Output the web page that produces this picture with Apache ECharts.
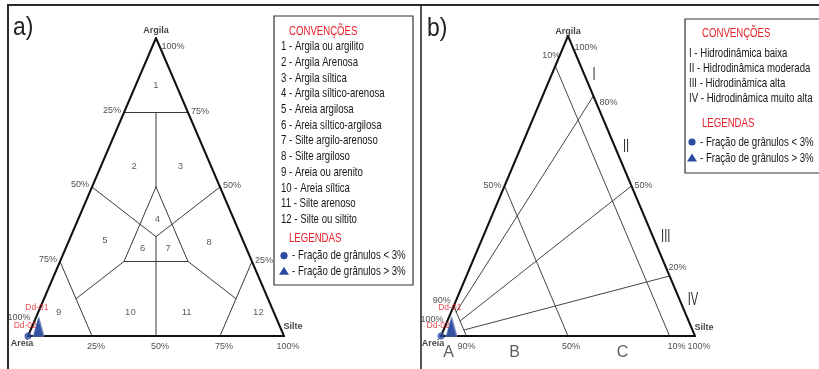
<!DOCTYPE html>
<html>
<head>
<meta charset="utf-8">
<script src="https://cdn.jsdelivr.net/npm/echarts@6/dist/echarts.min.js"></script>
<style>
  html, body { margin: 0; padding: 0; background: #fff; }
  #chart { width: 819px; height: 369px; }
</style>
</head>
<body>
<div id="chart"></div>
<script>
// ---- Data -------------------------------------------------------------
// Shepard classes (panel a)
const shepardClasses = [
  '1 - Argila ou argilito', '2 - Argila Arenosa', '3 - Argila síltica',
  '4 - Argila síltico-arenosa', '5 - Areia argilosa', '6 - Areia síltico-argilosa',
  '7 - Silte argilo-arenoso', '8 - Silte argiloso', '9 - Areia ou arenito',
  '10 - Areia síltica', '11 - Silte arenoso', '12 - Silte ou siltito'
];
// Pejrup hydrodynamic classes (panel b)
const pejrupClasses = [
  'I - Hidrodinâmica baixa', 'II - Hidrodinâmica moderada',
  'III - Hidrodinâmica alta', 'IV - Hidrodinâmica muito alta'
];
const pejrupNumerals = ['I', 'II', 'III', 'IV'];
const pejrupSections = ['A', 'B', 'C'];
const granuleLegend = ['- Fração de grânulos < 3%', '- Fração de grânulos > 3%'];

// axis ticks (%)
const shepardTicks = [25, 50, 75, 100];
const pejrupSandTicks = [10, 50, 90];        // sand percentage lines
const pejrupRatioTicks = [80, 50, 20];       // clay / (clay + silt) lines

// samples: composition in % (clay, sand, silt)
const samples = ['Dd-01', 'Dd-02'];
const sampleClay = [3.5, 3.0];
const sampleSand = [94.0, 94.5];
const sampleSilt = [2.5, 2.5];
// samples with granule fraction < 3 %
const pureSandClay = [0];
const pureSandSand = [100];
const pureSandSilt = [0];

// ---- Styling ----------------------------------------------------------
const SANS = '"Liberation Sans",Arial,sans-serif';
const NARROW_SCALE = 0.74;   // condensed look for the legend texts
const INK = '#161616';
const RED = '#e8202a';
const BLUE = '#2b4c9f';

// ternary (clay, sand, silt) -> cartesian value space [0..1]
function tern(c, s, t) { return [(t + c / 2) / 100, c / 100]; }

// ---- Shepard boundaries -----------------------------------------------
const third = 100 / 3;
const shepardSegs = [
  [[75, 25, 0], [75, 0, 25]],
  [[75, 12.5, 12.5], [50, 25, 25]],
  [[50, 25, 25], [25, 50, 25], [25, 25, 50], [50, 25, 25]],
  [[50, 50, 0], [third, third, third], [50, 0, 50]],
  [[third, third, third], [0, 50, 50]],
  [[25, 75, 0], [0, 75, 25]],
  [[25, 0, 75], [0, 25, 75]],
  [[25, 50, 25], [12.5, 75, 12.5]],
  [[25, 25, 50], [12.5, 12.5, 75]]
];
// where each class number sits (clay, sand, silt)
const classLabelAt = [
  [84, 8, 8], [57, 30, 13], [57, 12, 31], [39, 30, 31], [32, 54, 14], [29.5, 40.5, 30],
  [29.5, 30.5, 40], [31.5, 13.5, 55], [8, 84, 8], [8, 56, 36], [8, 34, 58], [8, 6, 86]
];

// ---- Pejrup boundaries ------------------------------------------------
const pejrupSegs = [];
pejrupSandTicks.forEach(s => pejrupSegs.push([[100 - s, s, 0], [0, s, 100 - s]]));
pejrupRatioTicks.forEach(r => pejrupSegs.push([[10 * r / 100, 90, 10 * (100 - r) / 100], [r, 0, 100 - r]]));

const outline = [[[100, 0, 0], [0, 100, 0], [0, 0, 100], [100, 0, 0]]];

// ---- Series builders --------------------------------------------------
function segSeries(g, segs, width, color, z) {
  return {
    type: 'lines', coordinateSystem: 'cartesian2d', xAxisIndex: g, yAxisIndex: g,
    polyline: true, silent: true, z: z, animation: false,
    lineStyle: { color: color, width: width, opacity: 1, cap: 'round', join: 'miter' },
    data: segs.map(p => ({ coords: p.map(q => tern(q[0], q[1], q[2])) }))
  };
}
function textSeries(g, items, style) {
  return {
    type: 'scatter', xAxisIndex: g, yAxisIndex: g, symbolSize: 1, silent: true, z: 6,
    itemStyle: { color: 'rgba(0,0,0,0)' }, animation: false,
    data: items.map(it => ({
      value: tern(it.at[0], it.at[1], it.at[2]),
      label: Object.assign({ show: true, position: 'inside', formatter: it.text, offset: it.off }, style, it.style || {})
    }))
  };
}
const tickStyle = { fontFamily: SANS, fontSize: 9, color: '#222' };
const vertexStyle = { fontFamily: SANS, fontSize: 9, fontWeight: 'bold', color: '#111' };
const numStyle = { fontFamily: SANS, fontSize: 9.5, color: '#333' };
const sampleLabel = { fontFamily: SANS, fontSize: 8.5, color: RED };

function sampleSeries(g) {
  return [{
    type: 'scatter', xAxisIndex: g, yAxisIndex: g, symbol: 'triangle', symbolSize: [11, 20],
    silent: true, z: 8, animation: false,
    itemStyle: { color: BLUE, borderColor: 'rgba(255,255,255,0.6)', borderWidth: 0.5 },
    data: samples.map((n, i) => ({
      name: n, value: tern(sampleClay[i], sampleSand[i], sampleSilt[i]),
      label: Object.assign({ show: true, position: 'inside', formatter: n, offset: i === 0 ? [-2, -18] : [-13, -1] }, sampleLabel)
    }))
  }, {
    type: 'scatter', xAxisIndex: g, yAxisIndex: g, symbol: 'circle', symbolSize: 7,
    silent: true, z: 9, animation: false, itemStyle: { color: BLUE },
    data: pureSandClay.map((c, i) => tern(c, pureSandSand[i], pureSandSilt[i]))
  }];
}

// ---- Panel a labels ---------------------------------------------------
const aTexts = [];
shepardTicks.forEach(v => aTexts.push({ text: v + '%', at: [100 - v, v, 0], off: v === 100 ? [-9, -18] : [-12, -2] }));
shepardTicks.forEach(v => aTexts.push({ text: v + '%', at: [v, 0, 100 - v], off: v === 100 ? [17, 9] : [12, -1] }));
shepardTicks.forEach(v => aTexts.push({ text: v + '%', at: [0, 100 - v, v], off: [4, 11] }));
const aVertex = [
  { text: 'Argila', at: [100, 0, 0], off: [0, -7] },
  { text: 'Areia', at: [0, 100, 0], off: [-6, 8] },
  { text: 'Silte', at: [0, 0, 100], off: [9, -9] }
];
const aNums = classLabelAt.map((p, i) => ({ text: String(i + 1), at: p, off: [0, 0] }));

// ---- Panel b labels ---------------------------------------------------
const bTexts = [];
const bLeftOff = { 10: [-4, -10], 50: [-12, 0], 90: [-12, -5] };
pejrupSandTicks.forEach(v => bTexts.push({ text: v + '%', at: [100 - v, v, 0], off: bLeftOff[v] }));
bTexts.push({ text: '100%', at: [0, 100, 0], off: [-9, -16] });
const bRightOff = { 80: [15, 7], 50: [12, 0], 20: [8, -8] };
pejrupRatioTicks.forEach(v => bTexts.push({ text: v + '%', at: [v, 0, 100 - v], off: bRightOff[v] }));
bTexts.push({ text: '100%', at: [100, 0, 0], off: [18, 12] });
const bBottomOff = { 90: [0, 11], 50: [3, 11], 10: [7, 11] };
pejrupSandTicks.forEach(v => bTexts.push({ text: v + '%', at: [0, v, 100 - v], off: bBottomOff[v] }));
bTexts.push({ text: '100%', at: [0, 0, 100], off: [4, 11] });
const bVertex = [
  { text: 'Argila', at: [100, 0, 0], off: [0, -4] },
  { text: 'Areia', at: [0, 100, 0], off: [-8, 8] },
  { text: 'Silte', at: [0, 0, 100], off: [9, -8] }
];
const numeralClay = [87, 63, 33, 12];
const sectionSilt = [3, 29, 71.5];
const bSections = pejrupSections.map((n, i) => ({ text: n, at: [0, 100 - sectionSilt[i], sectionSilt[i]], off: [0, 17] }));

// ---- Graphic helpers ---------------------------------------------------
function narrowText(x, y, text, color, size, extra) {
  return Object.assign({
    type: 'text', x: x, y: y, scaleX: NARROW_SCALE, z: 2,
    style: { text: text, fill: color, font: size + 'px ' + SANS, textVerticalAlign: 'middle' }
  }, extra || {});
}
function legendBox(x, y, w, h, items, titleX, titleY, itemX, itemY0, step, legY, symX, symY0, symStep, symTextX) {
  const els = [{ type: 'rect', shape: { x: x, y: y, width: w, height: h }, style: { fill: '#fff', stroke: '#333', lineWidth: 1.2 }, z: 1 }];
  els.push(narrowText(titleX, titleY, 'CONVENÇÕES', RED, 13));
  items.forEach((t, i) => els.push(narrowText(itemX, itemY0 + i * step, t, INK, 13)));
  els.push(narrowText(titleX, legY, 'LEGENDAS', RED, 13));
  els.push({ type: 'circle', shape: { cx: symX, cy: symY0, r: 3.6 }, style: { fill: BLUE }, z: 2 });
  els.push({ type: 'polygon', shape: { points: [[symX, symY0 + symStep - 4.5], [symX - 5, symY0 + symStep + 3.5], [symX + 5, symY0 + symStep + 3.5]] }, style: { fill: BLUE }, z: 2 });
  granuleLegend.forEach((t, i) => els.push(narrowText(symTextX, symY0 + i * symStep, t, INK, 13)));
  return els;
}

const frame = [
  { type: 'polyline', shape: { points: [[8, 369], [8, 5], [819, 5]] }, style: { stroke: '#2a2a2a', lineWidth: 2, fill: null }, z: 0 },
  { type: 'line', shape: { x1: 421, y1: 5, x2: 421, y2: 369 }, style: { stroke: '#2a2a2a', lineWidth: 1.6 }, z: 0 },
  narrowText(13, 28, 'a)', '#222', 26, { scaleX: 0.88 }),
  narrowText(427, 29, 'b)', '#222', 26, { scaleX: 0.88 })
].concat(
  legendBox(274, 16, 139, 269, shepardClasses, 289, 31, 281, 46.7, 15.7, 238, 284, 255.7, 15.5, 292),
  legendBox(685, 19, 150, 154, pejrupClasses, 702, 33, 689, 53, 15.3, 123, 692, 142, 16, 700)
);

// ---- Chart ------------------------------------------------------------
const chart = echarts.init(document.getElementById('chart'), null, { renderer: 'canvas' });
const axis = { type: 'value', min: 0, max: 1, show: false };
chart.setOption({
  animation: false,
  backgroundColor: '#fff',
  grid: [
    { left: 28, top: 38, width: 256, height: 298 },
    { left: 441, top: 36, width: 254, height: 300 }
  ],
  xAxis: [Object.assign({ gridIndex: 0 }, axis), Object.assign({ gridIndex: 1 }, axis)],
  yAxis: [Object.assign({ gridIndex: 0 }, axis), Object.assign({ gridIndex: 1 }, axis)],
  series: [
    segSeries(0, shepardSegs, 1, '#3a3a3a', 3),
    segSeries(0, outline, 2, '#111', 4),
    textSeries(0, aTexts, tickStyle),
    textSeries(0, aVertex, vertexStyle),
    textSeries(0, aNums, numStyle),
    segSeries(1, pejrupSegs, 1, '#444', 3),
    segSeries(1, outline, 2, '#111', 4),
    textSeries(1, bTexts, tickStyle),
    textSeries(1, bVertex, vertexStyle),
    textSeries(1, bSections, { fontFamily: SANS, fontSize: 16, color: '#333' })
  ].concat(sampleSeries(0), sampleSeries(1))
});

// hydrodynamic numerals beside the Argila–Silte side, placed through grid 1's scales
const numerals = pejrupNumerals.map((n, i) => {
  const p = chart.convertToPixel({ gridIndex: 1 }, tern(numeralClay[i], 0, 100 - numeralClay[i]));
  return narrowText(p[0] + 8, p[1], n, '#333', 18, { scaleX: 0.62 });
});
chart.setOption({ graphic: frame.concat(numerals) });
</script>
</body>
</html>
